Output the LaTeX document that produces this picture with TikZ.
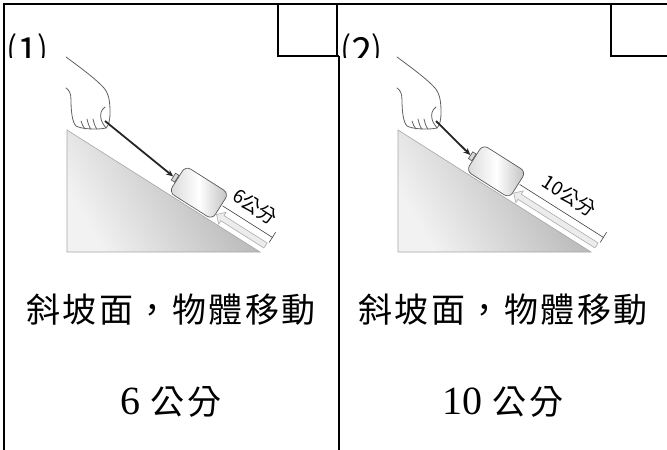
\documentclass[tikz,border=0pt]{standalone}
\usepackage{fontspec}
\setmainfont{Liberation Serif}
\newfontfamily\cjk{Noto Sans CJK TC}
\newfontfamily\cjkspaced[LetterSpace=7.4]{Noto Sans CJK TC}
\usetikzlibrary{arrows.meta,calc,shapes.arrows}
\tikzset{
  frame/.style={line width=2pt},
  handline/.style={draw=black!62, line width=0.8pt, line cap=round, line join=round},
  slopeface/.style={draw=gray!70, line width=0.6pt, shading=axis, top color=gray!64, bottom color=gray!10, shading angle=-60},
  blockbox/.style={draw=black!65, line width=0.7pt, rounded corners=6pt, minimum width=51pt, minimum height=31pt, inner sep=0pt, shading=axis, left color=gray!30, right color=gray!50, middle color=white, transform shape},
  knobbox/.style={draw=black!70, fill=gray!30, line width=0.6pt, minimum width=4pt, minimum height=8pt, inner sep=0pt, transform shape},
  pullstring/.style={draw=black!85, line width=1.8pt, -{Stealth[length=7pt,width=6pt]}},
  pusharrow/.style={single arrow, draw=gray!65, fill=gray!15, line width=0.6pt, single arrow head extend=4pt, inner sep=2.7pt, shape border rotate=180, transform shape},
  dimline/.style={draw=black!75, line width=0.6pt},
  dimlabel/.style={font=\cjk\fontsize{19}{19}\selectfont, transform shape, inner sep=0pt},
  mainlabel/.style={font=\cjkspaced\fontsize{34}{34}\selectfont, inner sep=0pt},
  numlabel/.style={inner sep=0pt},
  tag/.style={font=\cjk\fontsize{38}{38}\selectfont, inner sep=0pt, anchor=base},
}
\newcommand{\slopepanel}[4]{%
  \pgfmathsetmacro\pushlen{10*#3-2}%
  \begin{scope}[shift={(#2,130)}]
    \shadedraw[slopeface] (0,0) -- (0,122) -- (193,122) -- cycle;
    \draw[handline] (-1,-73) .. controls (14,-62) and (30,-50) .. (37,-42)
                      .. controls (42,-36) and (43,-28) .. (43,-18)
                      .. controls (43,-10) and (42,-5) .. (39,-2);
    \draw[handline] (-1,-42) .. controls (2,-40) and (4,-37) .. (4,-30)
                      .. controls (4,-20) and (5,-8) .. (9,-4)
                      .. controls (14,-1) and (30,0) .. (39,-2);
    \draw[handline] (38,-23) .. controls (34,-20) and (33,-16) .. (34,-11)
                      .. controls (35,-7) and (37,-5) .. (39,-2);
    \draw[handline] (14,-9) .. controls (15,-6) and (16,-3) .. (18,-1);
    \draw[handline] (20,-11) .. controls (21,-7) and (22,-3) .. (24,-1);
    \draw[handline] (26,-11) .. controls (27,-7) and (28,-3) .. (30,-1);
    \coordinate (#1-grip) at (38,-9);
  \end{scope}
  \begin{scope}[shift={(#2,130)}, rotate=-32.3]
    \node[blockbox] (#1-block) at ({205-10*#3},-17.5) {};
    \node[knobbox, anchor=east] (#1-knob) at (#1-block.west) {};
    \node[pusharrow, minimum height=\pushlen pt] (#1-push) at ({232-5*#3},-8.5) {};
    \coordinate (#1-d0) at ({232-10*#3},-19);
    \coordinate (#1-d1) at (231,-19);
    \coordinate (#1-t0) at (231,-13);
    \coordinate (#1-t1) at (231,-25);
    \draw[dimline] (#1-d0) -- (#1-d1);
    \draw[dimline] (#1-t0) -- (#1-t1);
    \node[dimlabel] (#1-dim) at ({230-5*#3},-36) {#4};
  \end{scope}
  \draw[pullstring] (#1-grip) -- (#1-knob.west);
}
\begin{document}
\begin{tikzpicture}[x=1pt, y=-1pt]
  \useasboundingbox (0,0) rectangle (667,450);
  % table frame
  \draw[frame] (4,450) -- (4,4) -- (667,4);
  \draw[frame] (278,4) -- (278,56) -- (339,56);
  \draw[frame] (337,4) -- (337,56);
  \draw[frame] (339,56) -- (339,450);
  \draw[frame] (611,4) -- (611,56) -- (667,56);
  % tags (cut off by the cell edge)
  \begin{scope}
    \clip (0,0) rectangle (667,57);
    \node[tag] (tag1) at (27.5,65) {⑴};
    \node[tag] (tag2) at (361,65) {⑵};
  \end{scope}
  % panels
  \slopepanel{A}{67}{6}{6公分}
  \slopepanel{B}{398}{10}{10公分}
  % captions
  \node[mainlabel] (capA) at (171,310) {斜坡面，物體移動};
  \node[mainlabel] (capB) at (503,310) {斜坡面，物體移動};
  \node[numlabel] (valA) at (171,402) {{\fontsize{40}{40}\selectfont 6}\hspace{10pt}{\cjkspaced\fontsize{34}{34}\selectfont 公分}};
  \node[numlabel] (valB) at (503,402) {{\fontsize{40}{40}\selectfont 10}\hspace{10pt}{\cjkspaced\fontsize{34}{34}\selectfont 公分}};
\end{tikzpicture}
\end{document}
